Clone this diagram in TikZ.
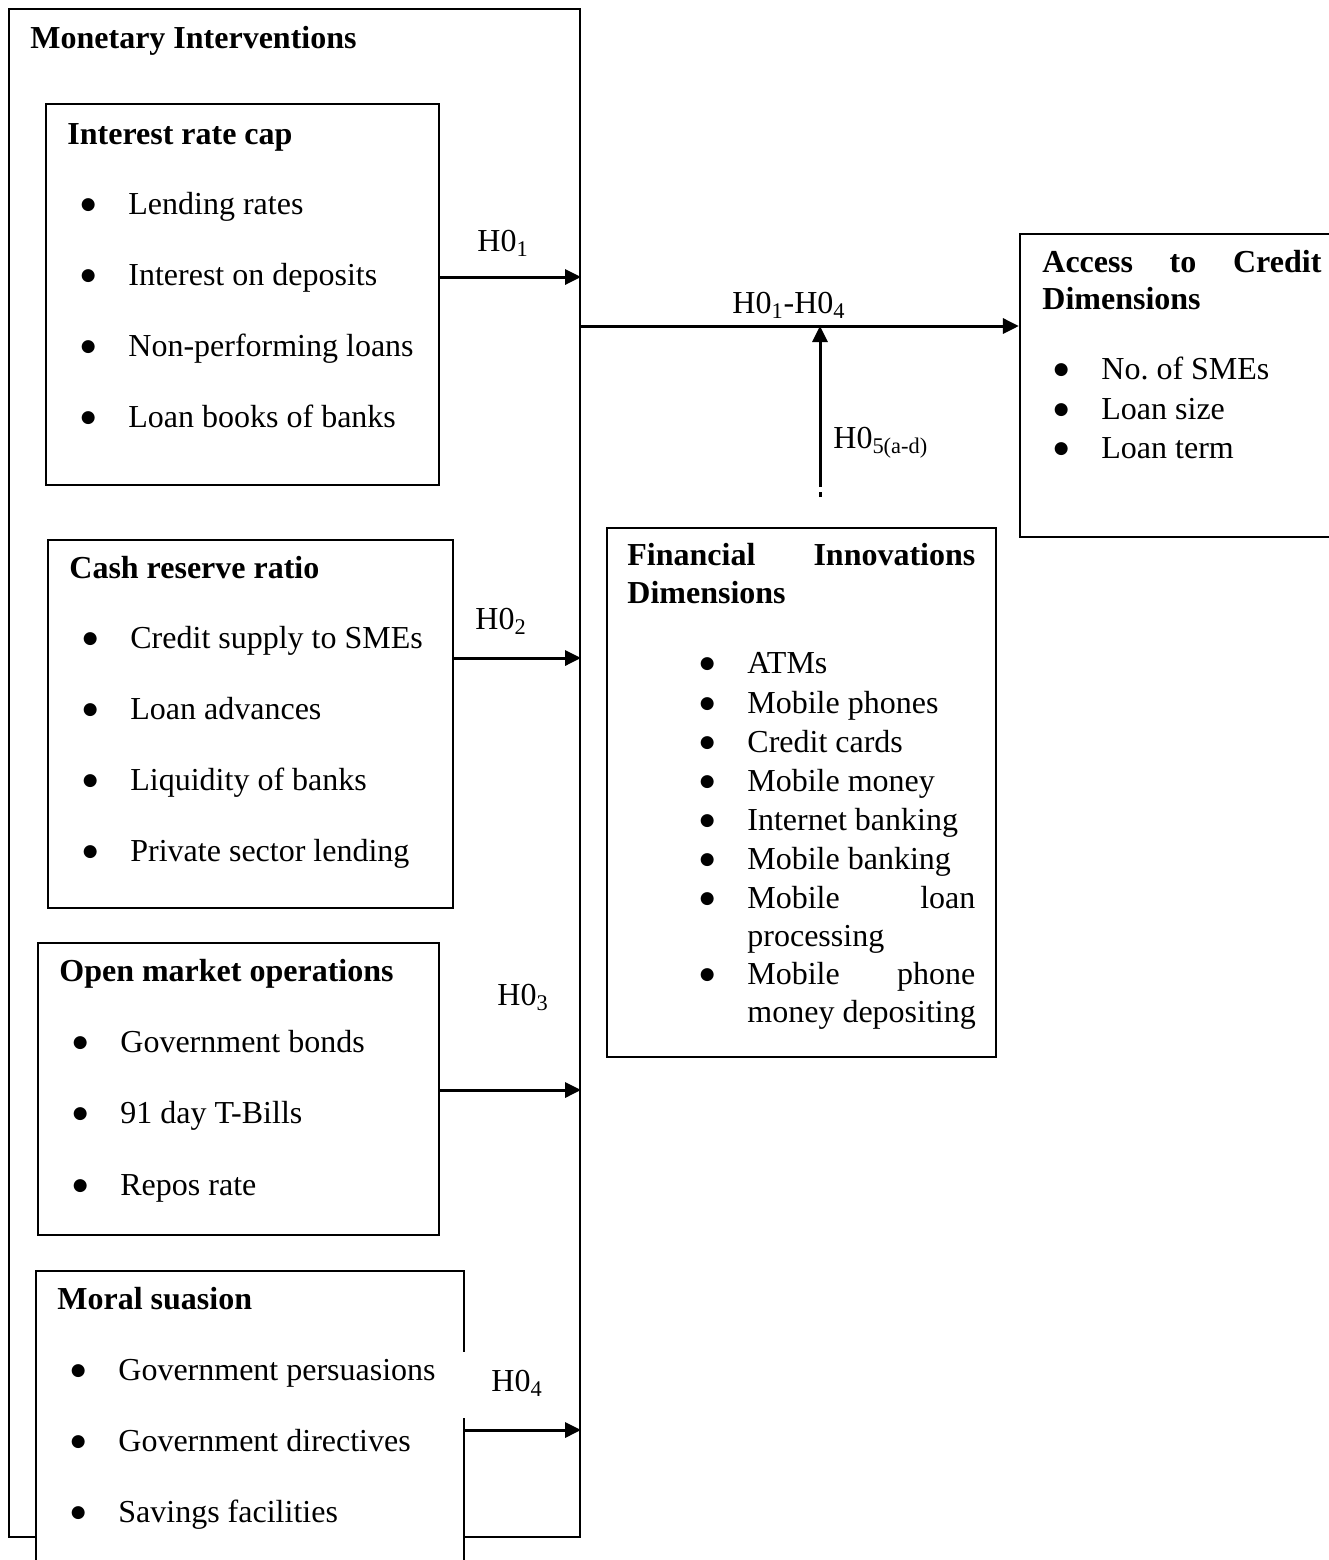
\documentclass[tikz,border=0pt]{standalone}
\usepackage{fontspec}
\setmainfont{Liberation Serif}
\newfontfamily\dejavu{DejaVu Sans}
\usetikzlibrary{fit,arrows.meta}
\newcommand{\bl}{\hspace*{-20pt}\makebox[0pt]{\raisebox{2.2pt}{\dejavu\fontsize{8.5}{8.5}\selectfont ●}}\hspace*{20pt}}
\newcommand{\hz}[1]{H0\textsubscript{#1}}
\begin{document}
\frenchspacing
\begin{tikzpicture}[x=0.5pt,y=-0.5pt,
  box/.style={draw, line width=1.1pt, inner sep=0pt},
  txt/.style={anchor=base west, inner sep=0pt, font=\fontsize{16}{19}\selectfont},
  ttl/.style={anchor=base west, inner sep=0pt, font=\fontsize{16}{19}\selectfont\bfseries},
  ln/.style={line width=1.5pt},
  arr/.style={line width=1.5pt, -{Triangle[length=8pt,width=7.5pt]}}]
\useasboundingbox (0,0) rectangle (1329,1560);

% outer box
\node[box, fit={(9,9) (580,1537)}] (mon) {};
\node[ttl] (monT) at (30,48) {Monetary Interventions};

% Interest rate cap
\node[box, fit={(46,104) (439,485)}] (irc) {};
\node[ttl] (ircT) at (67,144) {Interest rate cap};
\node[txt] (irc1) at (128,214) {\bl Lending rates};
\node[txt] (irc2) at (128,285) {\bl Interest on deposits};
\node[txt] (irc3) at (128,356) {\bl Non-performing loans};
\node[txt] (irc4) at (128,427) {\bl Loan books of banks};

% Cash reserve ratio
\node[box, fit={(48,540) (453,908)}] (crr) {};
\node[ttl] (crrT) at (69,578) {Cash reserve ratio};
\node[txt] (crr1) at (130,648) {\bl Credit supply to SMEs};
\node[txt] (crr2) at (130,719) {\bl Loan advances};
\node[txt] (crr3) at (130,790) {\bl Liquidity of banks};
\node[txt] (crr4) at (130,861) {\bl Private sector lending};

% Open market operations
\node[box, fit={(38,943) (439,1235)}] (omo) {};
\node[ttl] (omoT) at (59,981) {Open market operations};
\node[txt] (omo1) at (120,1052) {\bl Government bonds};
\node[txt] (omo2) at (120,1123) {\bl 91 day T-Bills};
\node[txt] (omo3) at (120,1195) {\bl Repos rate};

% Moral suasion
\node[box, fill=white, fit={(36,1271) (464,1600)}] (ms) {};
\coordinate (g1) at (0,1352);
\coordinate (g2) at (0,1418);
\draw[white, line width=3pt] (ms.east |- g1) -- (ms.east |- g2);
\node[ttl] (msT) at (57,1309) {Moral suasion};
\node[txt] (ms1) at (118,1380) {\bl Government persuasions};
\node[txt] (ms2) at (118,1451) {\bl Government directives};
\node[txt] (ms3) at (118,1522) {\bl Savings facilities};

% Access to credit
\node[box, fit={(1020,234) (1345,537)}] (acc) {};
\node[ttl] (accT1) at (1042,272) {\makebox[139.5pt][s]{Access to Credit}};
\node[ttl] (accT2) at (1042,309) {Dimensions};
\node[txt] (acc1) at (1101,379) {\bl No. of SMEs};
\node[txt] (acc2) at (1101,419) {\bl Loan size};
\node[txt] (acc3) at (1101,458) {\bl Loan term};

% Financial innovations
\node[box, fit={(607,528) (996,1057)}] (fin) {};
\node[ttl] (finT1) at (627,565) {\makebox[174pt][s]{Financial Innovations}};
\node[ttl] (finT2) at (627,603) {Dimensions};
\node[txt] (fin1) at (747,673) {\bl ATMs};
\node[txt] (fin2) at (747,713) {\bl Mobile phones};
\node[txt] (fin3) at (747,752) {\bl Credit cards};
\node[txt] (fin4) at (747,791) {\bl Mobile money};
\node[txt] (fin5) at (747,830) {\bl Internet banking};
\node[txt] (fin6) at (747,869) {\bl Mobile banking};
\node[txt] (fin7) at (747,908) {\bl\makebox[114pt][s]{Mobile loan}};
\node[txt] (fin7b) at (747,946) {processing};
\node[txt] (fin8) at (747,984) {\bl\makebox[114pt][s]{Mobile phone}};
\node[txt] (fin8b) at (747,1022) {money depositing};

% arrows
\coordinate (r1) at (0,277);
\coordinate (r2) at (0,658);
\coordinate (r3) at (0,1090);
\coordinate (r4) at (0,1430);
\coordinate (rm) at (0,326);
\draw[arr] (irc.east |- r1) -- (mon.east |- r1);
\draw[arr] (crr.east |- r2) -- (mon.east |- r2);
\draw[arr] (omo.east |- r3) -- (mon.east |- r3);
\draw[arr] (ms.east |- r4) -- (mon.east |- r4);
\draw[arr] (mon.east |- rm) -- (acc.west |- rm);

\coordinate (vb) at (820,497);
\coordinate (vg1) at (820,492);
\coordinate (vg2) at (820,487);
\draw[ln] (vb) -- (vg1);
\draw[arr] (vg2) -- (vb |- rm);

% labels
\node[txt] (l1) at (477,251) {\hz{1}};
\node[txt] (l2) at (475,629) {\hz{2}};
\node[txt] (l3) at (497,1005) {\hz{3}};
\node[txt] (l4) at (491,1391) {\hz{4}};
\node[txt] (lm) at (732,313) {\hz{1}-\hz{4}};
\node[txt] (l5) at (833,448) {\hz{5(a-d)}};
\end{tikzpicture}
\end{document}
